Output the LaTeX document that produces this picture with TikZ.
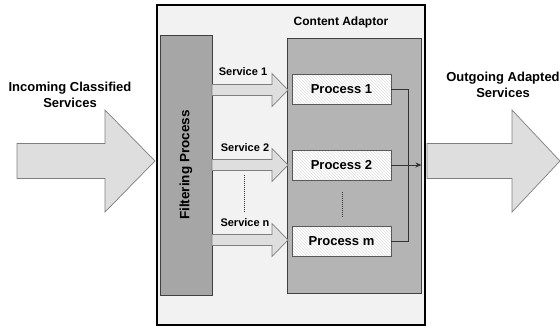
\documentclass[tikz,border=0pt]{standalone}
\usepackage{fontspec}
\setmainfont{Liberation Sans}
\usetikzlibrary{arrows.meta,patterns}
\definecolor{panel}{HTML}{F2F2F2}
\definecolor{filtergray}{HTML}{A6A6A6}
\definecolor{adaptgray}{HTML}{B4B4B4}
\definecolor{arrowfill}{HTML}{DEDEDE}
\definecolor{edgegray}{HTML}{7F7F7F}

\tikzset{
  lbl/.style={font=\bfseries\fontsize{13}{15.5}\selectfont,align=center,inner sep=0pt},
  svclbl/.style={font=\bfseries\fontsize{11}{13}\selectfont,inner sep=0pt},
  fatarrow/.style={fill=arrowfill,draw=edgegray,line width=0.7pt},
  procbox/.style={draw=black!65,line width=0.9pt,minimum width=99pt,minimum height=30pt,
    preaction={fill=white},pattern=north west lines,pattern color=black!12,
    font=\bfseries\fontsize{13}{15}\selectfont,inner sep=0pt},
  conn/.style={draw=black!80,line width=0.8pt},
  dots/.style={black!80,line width=0.8pt,dash pattern=on 1pt off 1pt}
}

\begin{document}
\begin{tikzpicture}[x=1pt,y=-1pt,>={Stealth[length=6pt,width=5pt]}]
\useasboundingbox (0,0) rectangle (560,327);

% outer frame
\node[draw=black,line width=2.4pt,fill=panel,minimum width=268pt,minimum height=320pt,inner sep=0pt] (frame) at (291,165) {};

% incoming and outgoing services
\filldraw[fatarrow] (17,143.5) -- (105,143.5) -- (105,110) -- (155,161) -- (105,212) -- (105,178.5) -- (17,178.5) -- cycle;
\node[lbl] (inlbl) at (70,95) {Incoming Classified\\Services};
\filldraw[fatarrow] (427,143.5) -- (512,143.5) -- (512,110) -- (560,161) -- (512,212) -- (512,178.5) -- (427,178.5) -- cycle;
\node[lbl] (outlbl) at (503,85) {Outgoing Adapted\\Services};

% filtering stage
\node[draw=black!75,line width=0.9pt,fill=filtergray,minimum width=52pt,minimum height=260pt,inner sep=0pt] (filter) at (186,165) {};
\node[lbl,rotate=90,font=\bfseries\fontsize{13.5}{16}\selectfont] (filterlbl) at (filter.center) {Filtering Process};

% content adaptor
\node[draw=black!75,line width=0.9pt,fill=adaptgray,minimum width=134pt,minimum height=255pt,inner sep=0pt] (ca) at (354,165.5) {};
\node[lbl,font=\bfseries\fontsize{12}{14}\selectfont] (calbl) at (341,22) {Content Adaptor};

% service arrows
\foreach \y in {90,165,240}
  \filldraw[fatarrow] (212,\y-5.5) -- (272,\y-5.5) -- (272,\y-16.5) -- (288,\y) -- (272,\y+16.5) -- (272,\y+5.5) -- (212,\y+5.5) -- cycle;
\node[svclbl] (s1) at (243,72) {Service 1};
\node[svclbl] (s2) at (245,148) {Service 2};
\node[svclbl] (sn) at (245,223) {Service n};
\coordinate (sdtop) at (244,175);
\coordinate (sdbot) at (244,213);
\draw[dots] (sdtop) -- (sdbot);

% processes
\node[procbox] (p1) at (341.5,89) {Process 1};
\node[procbox] (p2) at (341.5,165) {Process 2};
\node[procbox] (pm) at (341.5,241) {Process m};
\coordinate (pdtop) at (342,192);
\coordinate (pdbot) at (342,217);
\draw[dots] (pdtop) -- (pdbot);

% merged output
\draw[conn] (p1.east) -- ++(17,0) |- (pm.east);
\draw[conn,->] (p2.east) -- (p2.east -| ca.east);
\end{tikzpicture}
\end{document}
